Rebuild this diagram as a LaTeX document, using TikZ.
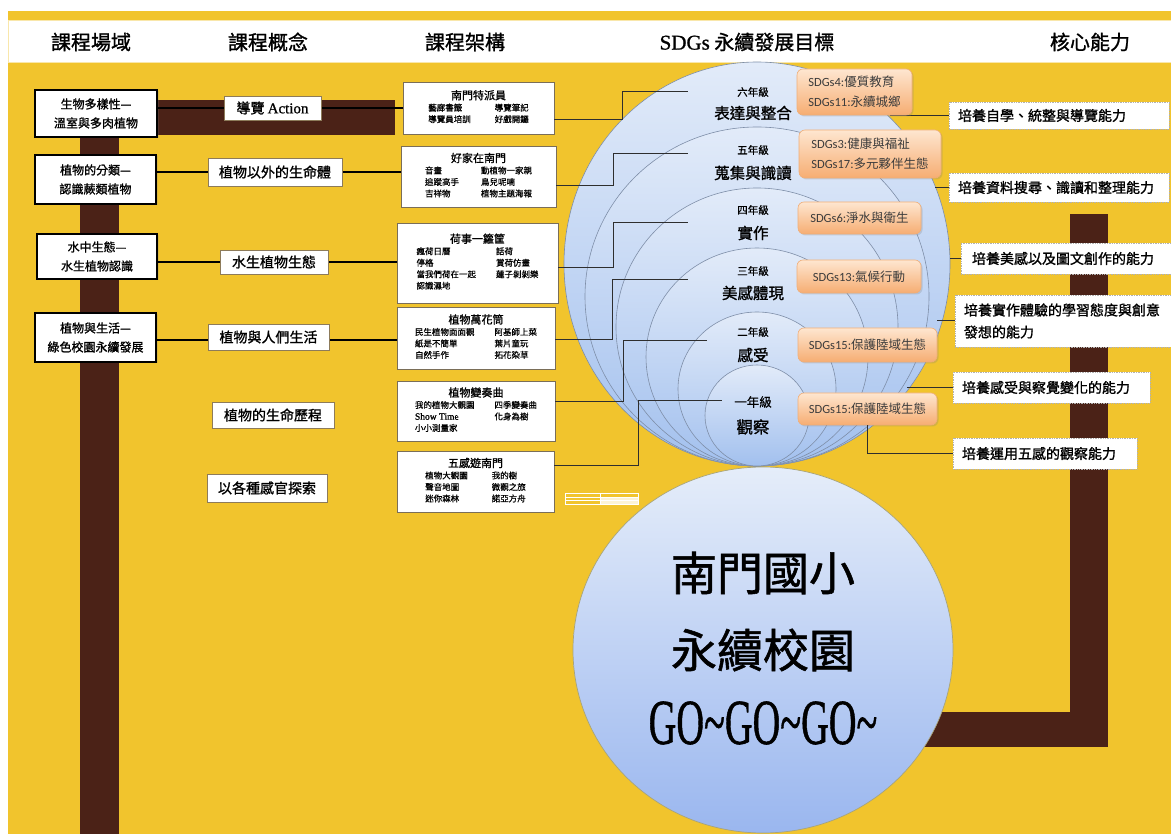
\documentclass[tikz,border=0pt]{standalone}
\usepackage{fontspec}
\setmainfont{Noto Sans CJK TC}
\newfontfamily\hv{Noto Sans CJK TC}[FakeBold=1.2]
\newfontfamily\hvl{Noto Sans CJK TC}[FakeBold=0.6]
\newfontfamily\carl{Carlito}
\newfontfamily\lser{Liberation Serif}
\newfontfamily\lserb{Liberation Serif}[FakeBold=1]
\usetikzlibrary{calc,shadows}
\definecolor{ylw}{HTML}{F1C42D}
\definecolor{brn}{HTML}{4B2217}
\definecolor{cbord}{HTML}{8D7B5A}
\definecolor{mbord}{HTML}{7A6E58}
\definecolor{sdgb}{HTML}{F0AE78}
\definecolor{sdgt}{HTML}{FEE6D0}
\definecolor{sdgbot}{HTML}{F6AD72}
\definecolor{sdgtxt}{HTML}{3C3C3C}
\definecolor{ringc}{HTML}{7E8EA8}
\definecolor{ctop}{HTML}{E2EBF9}
\definecolor{cbot}{HTML}{A2C0EE}
\definecolor{linec}{HTML}{2E2E2E}
\definecolor{bigb}{HTML}{A8A47A}
\tikzset{
 lbox/.style={draw=black, line width=1.8pt, fill=white, align=center, inner sep=0pt, font=\hv\fontsize{12}{19}\selectfont, drop shadow={opacity=0.2,shadow xshift=1.5pt,shadow yshift=-1.5pt}},
 cbox/.style={draw=cbord, line width=0.9pt, fill=white, inner sep=0pt, font=\hv\fontsize{14}{16}\selectfont},
 mbox/.style={draw=mbord, line width=0.9pt, fill=white, inner sep=0pt, font=\hvl\fontsize{8.5}{11.5}\selectfont},
 rbox/.style={draw=gray!60, line width=0.7pt, densely dotted, fill=white, align=left, inner xsep=9pt, inner ysep=0pt, font=\hv\fontsize{14}{22}\selectfont},
 sbox/.style={rounded corners=6pt, draw=sdgb, line width=0.6pt, top color=sdgt, bottom color=sdgbot, align=left, inner xsep=9pt, inner ysep=0pt, font=\fontsize{12.5}{20}\selectfont, text=sdgtxt, drop shadow={opacity=0.25,shadow xshift=1.5pt,shadow yshift=-1.5pt}},
 ring/.style={draw=ringc, line width=0.6pt, top color=ctop, bottom color=cbot},
 hdr/.style={font=\hv\fontsize{20}{22}\selectfont},
 gsmall/.style={font=\hvl\fontsize{10.5}{12}\selectfont},
 gbig/.style={font=\hv\fontsize{15.5}{18}\selectfont},
 glink/.style={draw=linec, line width=1pt},
 blink/.style={draw=black, line width=1.4pt},
 brownbar/.style={fill=brn}
}
\newcommand{\mt}[1]{\multicolumn{2}{c}{\hv\fontsize{11}{15}\selectfont #1}}
\begin{document}
\begin{tikzpicture}[x=1pt,y=-1pt]
\useasboundingbox (0,0) rectangle (1171,834);
\fill[white] (0,0) rectangle (1171,834);
\fill[ylw] (8,11) rectangle (1171,834);
\fill[white] (8,20) rectangle (1171,62);
\draw[ylw!40, line width=0.6pt] (8,20) rectangle (1171,62);
% headers
\node[hdr] (h1) at (91,42) {課程場域};
\node[hdr] (h2) at (268,42) {課程概念};
\node[hdr] (h3) at (465,42) {課程架構};
\node[hdr] (h4) at (747,42) {{\lserb\fontsize{21}{22}\selectfont SDGs} 永續發展目標};
\node[hdr] (h5) at (1090,42) {核心能力};
% brown bars
\fill[brownbar] (80,130) rectangle (119,834);
\fill[brownbar] (150,100) rectangle (395,135);
\fill[brownbar] (1070,214) rectangle (1108,747);
\fill[brownbar] (880,712) rectangle (1108,747);
% left boxes
\node[lbox, minimum width=122pt, minimum height=47pt] (b1) at (96,113.5) {生物多樣性—\\溫室與多肉植物};
\node[lbox, minimum width=121pt, minimum height=49pt] (b2) at (95.5,179.5) {植物的分類—\\認識蕨類植物};
\node[lbox, minimum width=120pt, minimum height=45pt] (b3) at (97,256.5) {水中生態—\\水生植物認識};
\node[lbox, minimum width=121pt, minimum height=49pt] (b4) at (95.5,337.5) {植物與生活—\\綠色校園永續發展};
% concept positions
\coordinate (c1p) at (272.5,108);
\coordinate (c2p) at (275,172);
\coordinate (c3p) at (274,262);
\coordinate (c4p) at (268.5,340);
% middle boxes
\node[mbox, minimum width=151pt, minimum height=52pt] (mb1) at (478.5,108) {\begin{tabular}{@{}l@{\hspace{24pt}}l@{}}\mt{南門特派員}\\ 藝廊書籤 & 導覽筆記\\ 導覽員培訓 & 好戲開鑼\end{tabular}};
\node[mbox, minimum width=155pt, minimum height=61pt] (mb2) at (478.5,176.5) {\begin{tabular}{@{}l@{\hspace{22pt}}l@{}}\mt{好家在南門}\\ 音畫 & 動植物一家親\\ 追蹤高手 & 鳥兒呢喃\\ 吉祥物 & 植物主題海報\end{tabular}};
\node[mbox, minimum width=161pt, minimum height=80pt] (mb3) at (477.5,263) {\begin{tabular}{@{}l@{\hspace{20pt}}l@{}}\mt{荷事一籮筐}\\ 瘋荷日曆 & 話荷\\ 停格 & 賞荷仿畫\\ 當我們荷在一起 & 蓮子剝剝樂\\ 認識濕地 & \end{tabular}};
\node[mbox, minimum width=158pt, minimum height=62pt] (mb4) at (476,338) {\begin{tabular}{@{}l@{\hspace{20pt}}l@{}}\mt{植物萬花筒}\\ 民生植物面面觀 & 阿基師上菜\\ 紙是不簡單 & 葉片童玩\\ 自然手作 & 拓花染草\end{tabular}};
\node[mbox, minimum width=158pt, minimum height=60pt] (mb5) at (476,411) {\begin{tabular}{@{}l@{\hspace{20pt}}l@{}}\mt{植物變奏曲}\\ 我的植物大觀園 & 四季變奏曲\\ {\lserb\fontsize{9.5}{11.5}\selectfont Show Time} & 化身為樹\\ 小小測量家 & \end{tabular}};
\node[mbox, minimum width=157pt, minimum height=61pt] (mb6) at (475.5,481.5) {\begin{tabular}{@{}l@{\hspace{24pt}}l@{}}\mt{五感遊南門}\\ 植物大觀園 & 我的樹\\ 聲音地圖 & 微觀之旅\\ 迷你森林 & 諾亞方舟\end{tabular}};
% left links
\draw[blink] (b1.east |- c1p) -- (mb1.west |- c1p);
\draw[blink] (b2.east |- c2p) -- (mb2.west |- c2p);
\draw[blink] (b3.east |- c3p) -- (mb3.west |- c3p);
\draw[blink] (b4.east |- c4p) -- (mb4.west |- c4p);
% concept boxes
\node[cbox, minimum width=97pt, minimum height=24pt] (c1) at (c1p) {導覽 {\lserb\fontsize{15}{16}\selectfont Action}};
\node[cbox, minimum width=134pt, minimum height=28pt] (c2) at (c2p) {植物以外的生命體};
\node[cbox, minimum width=108pt, minimum height=24pt] (c3) at (c3p) {水生植物生態};
\node[cbox, minimum width=121pt, minimum height=26pt] (c4) at (268.5,337) {植物與人們生活};
\node[cbox, minimum width=122pt, minimum height=26pt] (c5) at (273,415) {植物的生命歷程};
\node[cbox, minimum width=120pt, minimum height=28pt] (c6) at (267,488) {以各種感官探索};
% rings
\path[ring] (757,264) ellipse [x radius=193pt, y radius=202pt];
\path[ring] (757,296.5) ellipse [x radius=172pt, y radius=169.5pt];
\path[ring] (757,327) ellipse [x radius=141pt, y radius=139pt];
\path[ring] (757,357) ellipse [x radius=111pt, y radius=109pt];
\path[ring] (757,389) ellipse [x radius=79pt, y radius=77pt];
\path[ring] (757,415.5) ellipse [x radius=52pt, y radius=50.5pt];
% big circle
\path[draw=bigb, line width=0.7pt, top color=ctop!90!white, bottom color=cbot!95!blue] (763,650) ellipse [x radius=190pt, y radius=183pt];
\node[font=\hv\fontsize{46}{50}\selectfont] (t1) at (763,573) {南門國小};
\node[font=\hv\fontsize{46}{50}\selectfont] (t2) at (763,650) {永續校園};
\node[font=\lserb\fontsize{64}{66}\selectfont] (t3) at (763,723) {\scalebox{0.6}[1]{GO\textasciitilde GO\textasciitilde GO\textasciitilde}};
% tiny table
\draw[white, line width=0.4pt] (565,493) rectangle (638,504) (565,497) -- (638,497) (565,500.5) -- (638,500.5) (600,493) -- (600,504);
\fill[white, opacity=0.8] (600,497) rectangle (638,504);
% grade labels
\node[gsmall] (g6a) at (753,92) {六年級};
\node[gbig] (g6b) at (753,113) {表達與整合};
\node[gsmall] (g5a) at (753,150) {五年級};
\node[gbig] (g5b) at (753,173) {蒐集與識讀};
\node[gsmall] (g4a) at (753,210) {四年級};
\node[gbig] (g4b) at (753,233) {實作};
\node[gsmall] (g3a) at (753,271) {三年級};
\node[gbig] (g3b) at (753,293) {美感體現};
\node[gsmall] (g2a) at (753,332) {二年級};
\node[gbig] (g2b) at (753,355) {感受};
\node[font=\hvl\fontsize{12.5}{14}\selectfont] (g1a) at (753,402) {一年級};
\node[font=\hv\fontsize{16.5}{18}\selectfont] (g1b) at (753,427) {觀察};
% grade links
\coordinate (e6) at (688,92);
\coordinate (e5) at (688,154);
\coordinate (e4) at (688,223);
\coordinate (e3) at (688,280);
\coordinate (e2) at (707,341);
\coordinate (e1) at (722,401);
\draw[glink] ([yshift=-12pt]mb1.east) -| (622,92) -- (e6);
\draw[glink] ([yshift=-9.5pt]mb2.east) -| (613,154) -- (e5);
\draw[glink] ([yshift=-5pt]mb3.east) -| (613,223) -- (e4);
\draw[glink] ([yshift=-2pt]mb4.east) -| (612,280) -- (e3);
\draw[glink] ([yshift=9pt]mb5.east) -| (623,341) -- (e2);
\draw[glink] ([yshift=16.5pt]mb6.east) -| (638,401) -- (e1);
% right boxes
\node[rbox, text width=202pt, minimum height=27pt] (rb1) at (1059,115.5) {培養自學、統整與導覽能力};
\node[rbox, text width=202pt, minimum height=29pt] (rb2) at (1059,187.5) {培養資料搜尋、識讀和整理能力};
\node[rbox, inner xsep=11pt, text width=188pt, minimum height=31pt] (rb3) at (1066,258.5) {培養美感以及圖文創作的能力};
\node[rbox, text width=198pt, minimum height=52pt] (rb4) at (1063,321) {培養實作體驗的學習態度與創意\\發想的能力};
\node[rbox, text width=179pt, minimum height=31pt] (rb5) at (1051.5,387.5) {培養感受與察覺變化的能力};
\node[rbox, text width=166pt, minimum height=31pt] (rb6) at (1045,453.5) {培養運用五感的觀察能力};
% right links
\coordinate (k1) at (890,0);
\coordinate (k2) at (935,0);
\coordinate (k3) at (950,0);
\coordinate (k4) at (937,0);
\coordinate (k5) at (907,0);
\draw[glink] (k1 |- rb1.west) -- (rb1.west);
\draw[glink] (k2 |- rb2.west) -- (rb2.west);
\draw[glink] (k3 |- rb3.west) -- (rb3.west);
\draw[glink] (k4 |- rb4.west) -- (rb4.west);
\draw[glink] (k5 |- rb5.west) -- (rb5.west);
% SDG boxes
\node[sbox, minimum width=115pt, minimum height=46pt] (s1) at (854.5,92) {{\carl SDGs4:}優質教育\\{\carl SDGs11:}永續城鄉};
\node[sbox, minimum width=142pt, minimum height=48pt] (s2) at (870,154) {{\carl SDGs3:}健康與福祉\\{\carl SDGs17:}多元夥伴生態};
\node[sbox, minimum width=123pt, minimum height=32pt] (s3) at (859.5,218) {{\carl SDGs6:}淨水與衛生};
\node[sbox, minimum width=124pt, minimum height=33pt] (s4) at (859,276.5) {{\carl SDGs13:}氣候行動};
\node[sbox, minimum width=139pt, minimum height=34pt] (s5) at (867.5,345) {{\carl SDGs15:}保護陸域生態};
\node[sbox, minimum width=139pt, minimum height=32pt] (s6) at (867.5,409) {{\carl SDGs15:}保護陸域生態};
\draw[glink] (s6.south) |- (rb6.west);
\end{tikzpicture}
\end{document}
